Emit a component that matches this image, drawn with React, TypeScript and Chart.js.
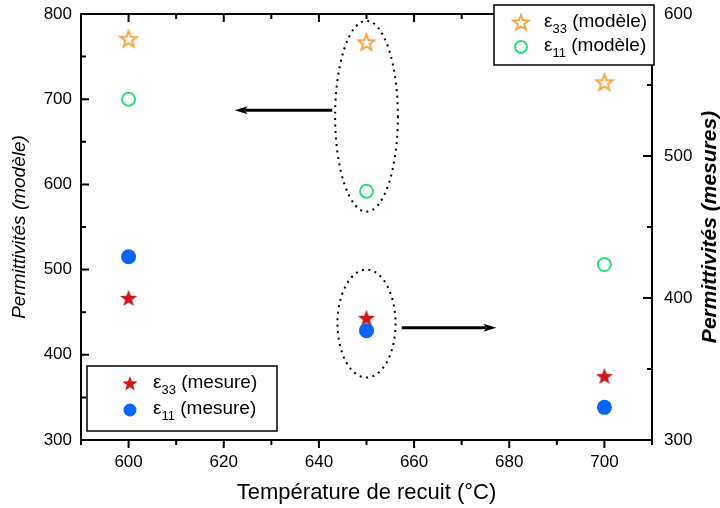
import React, { useEffect, useRef } from "react";
import { Chart, registerables } from "chart.js";
Chart.register(...registerables);

const temperatures = [600, 650, 700];
const eps33Modele = [771, 767, 720];
const eps11Modele = [700, 592, 506];
const eps33Mesure = [400, 386, 345];
const eps11Mesure = [429, 377, 323];

const xTickValues = [600, 620, 640, 660, 680, 700];
const leftTickValues = [300, 400, 500, 600, 700, 800];
const rightTickValues = [300, 400, 500, 600];

const xMinorStep = 10;
const leftMinorStep = 50;
const rightMinorStep = 50;

const FONT = "'Liberation Sans', Arial, sans-serif";
const ORANGE = "rgb(245,165,70)";
const GREEN = "rgb(40,222,120)";
const RED = "rgb(205,25,30)";
const BLUE = "rgb(10,100,245)";

function drawStar(ctx: CanvasRenderingContext2D, cx: number, cy: number, R: number, fill: string | null, stroke: string | null, lw: number) {
  const r = R * 0.42;
  ctx.save();
  ctx.beginPath();
  for (let i = 0; i < 10; i++) {
    const ang = -Math.PI / 2 + (i * Math.PI) / 5;
    const rad = i % 2 === 0 ? R : r;
    const x = cx + rad * Math.cos(ang);
    const y = cy + rad * Math.sin(ang);
    if (i === 0) ctx.moveTo(x, y);
    else ctx.lineTo(x, y);
  }
  ctx.closePath();
  if (fill) {
    ctx.fillStyle = fill;
    ctx.fill();
  }
  if (stroke) {
    ctx.strokeStyle = stroke;
    ctx.lineWidth = lw;
    ctx.lineJoin = "miter";
    ctx.stroke();
  }
  ctx.restore();
}

function starImage(fill: string | null, stroke: string | null, R: number, lw: number) {
  const size = 24;
  const c = document.createElement("canvas");
  c.width = size;
  c.height = size;
  const ctx = c.getContext("2d")!;
  drawStar(ctx, size / 2, size / 2 + 0.8, R, fill, stroke, lw);
  return c;
}

function drawCircle(ctx: CanvasRenderingContext2D, cx: number, cy: number, r: number, fill: string | null, stroke: string | null, lw: number) {
  ctx.save();
  ctx.beginPath();
  ctx.arc(cx, cy, r, 0, Math.PI * 2);
  if (fill) {
    ctx.fillStyle = fill;
    ctx.fill();
  }
  if (stroke) {
    ctx.strokeStyle = stroke;
    ctx.lineWidth = lw;
    ctx.stroke();
  }
  ctx.restore();
}

function drawLegendLabel(ctx: CanvasRenderingContext2D, x: number, y: number, sub: string, rest: string) {
  ctx.save();
  ctx.fillStyle = "#000";
  ctx.textBaseline = "middle";
  ctx.textAlign = "left";
  ctx.font = `19px ${FONT}`;
  ctx.fillText("ε", x, y);
  const w1 = ctx.measureText("ε").width;
  ctx.font = `13px ${FONT}`;
  ctx.fillText(sub, x + w1, y + 7);
  const w2 = ctx.measureText(sub).width;
  ctx.font = `19px ${FONT}`;
  ctx.fillText(rest, x + w1 + w2, y);
  ctx.restore();
}

function arrow(ctx: CanvasRenderingContext2D, x1: number, x2: number, y: number) {
  const dir = Math.sign(x2 - x1);
  const head = 13;
  ctx.save();
  ctx.strokeStyle = "#000";
  ctx.fillStyle = "#000";
  ctx.lineWidth = 3;
  ctx.beginPath();
  ctx.moveTo(x1, y);
  ctx.lineTo(x2 - dir * head * 0.8, y);
  ctx.stroke();
  ctx.beginPath();
  ctx.moveTo(x2, y);
  ctx.lineTo(x2 - dir * head, y - 4);
  ctx.lineTo(x2 - dir * head * 0.75, y);
  ctx.lineTo(x2 - dir * head, y + 4);
  ctx.closePath();
  ctx.fill();
  ctx.restore();
}

function dottedEllipse(ctx: CanvasRenderingContext2D, cx: number, cy: number, rx: number, ry: number) {
  ctx.save();
  ctx.strokeStyle = "#000";
  ctx.lineWidth = 2;
  ctx.setLineDash([2, 4.5]);
  ctx.beginPath();
  ctx.ellipse(cx, cy, rx, ry, 0, 0, Math.PI * 2);
  ctx.stroke();
  ctx.restore();
}

const decorPlugin = {
  id: "decor",
  beforeDraw(chart: any) {
    const ctx = chart.ctx;
    ctx.save();
    ctx.fillStyle = "#fff";
    ctx.fillRect(0, 0, chart.width, chart.height);
    ctx.restore();
  },
  afterDatasetsDraw(chart: any) {
    const ctx: CanvasRenderingContext2D = chart.ctx;
    const { left, right, top, bottom } = chart.chartArea;
    const xs = chart.scales.x;
    const yl = chart.scales.y;
    const yr = chart.scales.y2;

    // annotations
    const e1cx = xs.getPixelForValue(650);
    const e1cy = yl.getPixelForValue(680);
    const e1rx = xs.getPixelForValue(656.6) - e1cx;
    const e1ry = yl.getPixelForValue(680) - yl.getPixelForValue(792);
    dottedEllipse(ctx, e1cx, e1cy, e1rx, e1ry);
    const e2cy = yr.getPixelForValue(382);
    const e2rx = xs.getPixelForValue(656.1) - e1cx;
    const e2ry = yr.getPixelForValue(382) - yr.getPixelForValue(420);
    dottedEllipse(ctx, e1cx, e2cy, e2rx, e2ry);
    arrow(ctx, xs.getPixelForValue(642.8), xs.getPixelForValue(622.3), yl.getPixelForValue(687));
    arrow(ctx, xs.getPixelForValue(657.4), xs.getPixelForValue(677.3), yr.getPixelForValue(379));

    // frame
    ctx.save();
    ctx.strokeStyle = "#000";
    ctx.lineWidth = 2;
    ctx.strokeRect(left, top, right - left, bottom - top);
    ctx.beginPath();
    for (let v = xs.min; v <= xs.max + 0.01; v += xMinorStep) {
      const p = xs.getPixelForValue(v);
      const major = Math.abs((v - 600) % 20) < 0.01;
      const len = major ? 8 : 5;
      ctx.moveTo(p, bottom);
      ctx.lineTo(p, bottom + len);
      ctx.moveTo(p, top);
      ctx.lineTo(p, top + len);
    }
    for (let v = yl.min; v <= yl.max + 0.01; v += leftMinorStep) {
      const p = yl.getPixelForValue(v);
      const major = Math.abs(v % 100) < 0.01;
      const len = major ? 8 : 5;
      ctx.moveTo(left, p);
      ctx.lineTo(left + len, p);
    }
    for (let v = yr.min; v <= yr.max + 0.01; v += rightMinorStep) {
      const p = yr.getPixelForValue(v);
      const major = Math.abs(v % 100) < 0.01;
      const len = major ? 9 : 5;
      ctx.moveTo(right, p);
      ctx.lineTo(right - len, p);
    }
    ctx.stroke();
    ctx.restore();

    // legend boxes
    ctx.save();
    ctx.fillStyle = "#fff";
    ctx.strokeStyle = "#000";
    ctx.lineWidth = 1.5;
    const b1 = { x: right - 158, y: 5, w: 160, h: 60 };
    ctx.fillRect(b1.x, b1.y, b1.w, b1.h);
    ctx.strokeRect(b1.x, b1.y, b1.w, b1.h);
    const b2 = { x: left + 6, y: 366, w: 190, h: 65 };
    ctx.fillRect(b2.x, b2.y, b2.w, b2.h);
    ctx.strokeRect(b2.x, b2.y, b2.w, b2.h);
    ctx.restore();
    drawStar(ctx, b1.x + 27, 23, 8, null, ORANGE, 2);
    drawLegendLabel(ctx, b1.x + 50, 22, "33", " (modèle)");
    drawCircle(ctx, b1.x + 27, 47, 6, null, GREEN, 2);
    drawLegendLabel(ctx, b1.x + 50, 46, "11", " (modèle)");
    drawStar(ctx, b2.x + 43, 384, 8, RED, null, 0);
    drawLegendLabel(ctx, b2.x + 66, 383, "33", " (mesure)");
    drawCircle(ctx, b2.x + 43, 410, 6.5, BLUE, null, 0);
    drawLegendLabel(ctx, b2.x + 66, 409, "11", " (mesure)");

    // axis titles
    const midY = (top + bottom) / 2;
    ctx.save();
    ctx.fillStyle = "#000";
    ctx.textAlign = "center";
    ctx.textBaseline = "middle";
    ctx.font = `22px ${FONT}`;
    ctx.fillText("Température de recuit (°C)", (left + right) / 2, bottom + 53);
    ctx.save();
    ctx.translate(20, midY);
    ctx.rotate(-Math.PI / 2);
    ctx.font = `italic 19px ${FONT}`;
    ctx.fillText("Permittivités (modèle)", 0, 0);
    ctx.restore();
    ctx.save();
    ctx.translate(right + 58, midY);
    ctx.rotate(-Math.PI / 2);
    ctx.font = `italic bold 21px ${FONT}`;
    ctx.fillText("Permittivités (mesures)", 0, 0);
    ctx.restore();
    ctx.restore();
  },
};

export default function App() {
  const ref = useRef<HTMLCanvasElement | null>(null);
  useEffect(() => {
    document.body.style.margin = "0";
    const canvas = ref.current!;
    const orangeStar = starImage(null, ORANGE, 8.5, 2);
    const redStar = starImage(RED, null, 9, 0);
    const pts = (vals: number[]) => temperatures.map((t, i) => ({ x: t, y: vals[i] }));
    const tickFont = { family: FONT, size: 17 };
    const setTicks = (vals: number[]) => (s: any) => {
      s.ticks = vals.map((v) => ({ value: v }));
    };
    const fitV = (w: number) => (s: any) => {
      s.width = w;
      s.paddingTop = 0;
      s.paddingBottom = 0;
    };
    const chart = new Chart(canvas, {
      type: "scatter",
      data: {
        datasets: [
          { label: "e33 modele", data: pts(eps33Modele), yAxisID: "y", pointStyle: orangeStar as any, pointRadius: 9, order: 2 },
          { label: "e11 modele", data: pts(eps11Modele), yAxisID: "y", pointStyle: "circle", pointRadius: 6.5, borderWidth: 2, borderColor: GREEN, backgroundColor: "rgba(0,0,0,0)", order: 3 },
          { label: "e33 mesure", data: pts(eps33Mesure), yAxisID: "y2", pointStyle: redStar as any, pointRadius: 9, order: 1 },
          { label: "e11 mesure", data: pts(eps11Mesure), yAxisID: "y2", pointStyle: "circle", pointRadius: 7.5, borderWidth: 0, backgroundColor: BLUE, order: 0 },
        ] as any,
      },
      options: {
        animation: false,
        responsive: false,
        events: [],
        layout: { padding: { top: 14, left: 0, right: 0, bottom: 0 } },
        plugins: { legend: { display: false }, tooltip: { enabled: false } },
        scales: {
          x: {
            type: "linear",
            min: 590,
            max: 710,
            grid: { display: false, drawTicks: false },
            border: { display: false },
            ticks: { color: "#000", font: tickFont, padding: 12, maxRotation: 0 },
            afterBuildTicks: setTicks(xTickValues),
            afterFit: (s: any) => { s.height = 68; s.paddingLeft = 0; s.paddingRight = 0; },
          },
          y: {
            type: "linear",
            position: "left",
            min: 300,
            max: 800,
            grid: { display: false, drawTicks: false },
            border: { display: false },
            ticks: { color: "#000", font: tickFont, padding: 9 },
            afterBuildTicks: setTicks(leftTickValues),
            afterFit: fitV(81),
          },
          y2: {
            type: "linear",
            position: "right",
            min: 300,
            max: 600,
            grid: { display: false, drawTicks: false },
            border: { display: false },
            ticks: { color: "#000", font: tickFont, padding: 12 },
            afterBuildTicks: setTicks(rightTickValues),
            afterFit: fitV(68),
          },
        },
      } as any,
      plugins: [decorPlugin],
    });
    return () => chart.destroy();
  }, []);
  return (
    <div style={{ width: 720, height: 508 }}>
      <canvas ref={ref} width={720} height={508} />
    </div>
  );
}
